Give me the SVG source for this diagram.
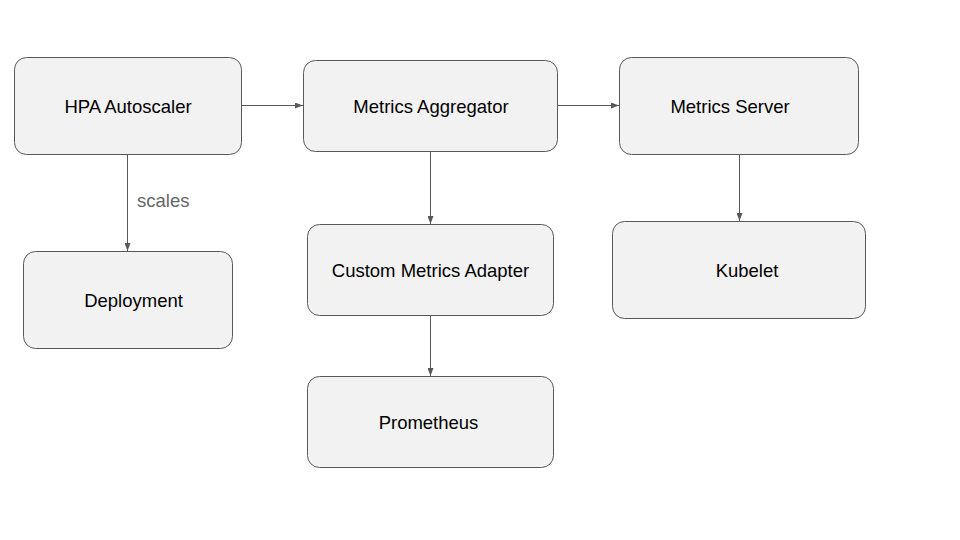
<svg xmlns="http://www.w3.org/2000/svg" width="960" height="540" viewBox="0 0 960 540">
<style>
.node rect{fill:#f2f2f2;stroke:#595959;stroke-width:1}
.node text{font-family:"Liberation Sans",Arial,sans-serif;font-size:18.5px;fill:#000;text-anchor:middle}
.edge{stroke:#595959;stroke-width:1;fill:none;marker-end:url(#arr)}
.lbl{font-family:"Liberation Sans",Arial,sans-serif;font-size:18.5px;fill:#666}
</style>
<defs>
<marker id="arr" markerWidth="8" markerHeight="6" refX="8" refY="3" orient="auto" markerUnits="userSpaceOnUse">
<path d="M0,0 L8,3 L0,6 Z" fill="#595959"/>
</marker>
</defs>
<rect width="960" height="540" fill="#fff"/>
<g id="connectors">
<line class="edge" x1="241" y1="105.5" x2="303" y2="105.5"/>
<line class="edge" x1="557" y1="105.5" x2="619" y2="105.5"/>
<line class="edge" x1="127.5" y1="154" x2="127.5" y2="251"/>
<line class="edge" x1="430.5" y1="151" x2="430.5" y2="224"/>
<line class="edge" x1="739.5" y1="154" x2="739.5" y2="221"/>
<line class="edge" x1="430.5" y1="315" x2="430.5" y2="376"/>
<text class="lbl" x="137" y="207">scales</text>
</g>
<g id="hpa" class="node"><rect x="14.5" y="57.5" width="227" height="97" rx="12"/><text x="128" y="113">HPA Autoscaler</text></g>
<g id="aggregator" class="node"><rect x="303.5" y="60.5" width="254" height="91" rx="12"/><text x="431" y="113">Metrics Aggregator</text></g>
<g id="server" class="node"><rect x="619.5" y="57.5" width="239" height="97" rx="12"/><text x="730" y="113">Metrics Server</text></g>
<g id="deployment" class="node"><rect x="23.5" y="251.5" width="209" height="97" rx="12"/><text x="133.5" y="307">Deployment</text></g>
<g id="adapter" class="node"><rect x="307.5" y="224.5" width="246" height="91" rx="12"/><text x="430.5" y="277">Custom Metrics Adapter</text></g>
<g id="kubelet" class="node"><rect x="612.5" y="221.5" width="253" height="97" rx="12"/><text x="747" y="277">Kubelet</text></g>
<g id="prometheus" class="node"><rect x="307.5" y="376.5" width="246" height="91" rx="12"/><text x="428.5" y="429">Prometheus</text></g>
</svg>
